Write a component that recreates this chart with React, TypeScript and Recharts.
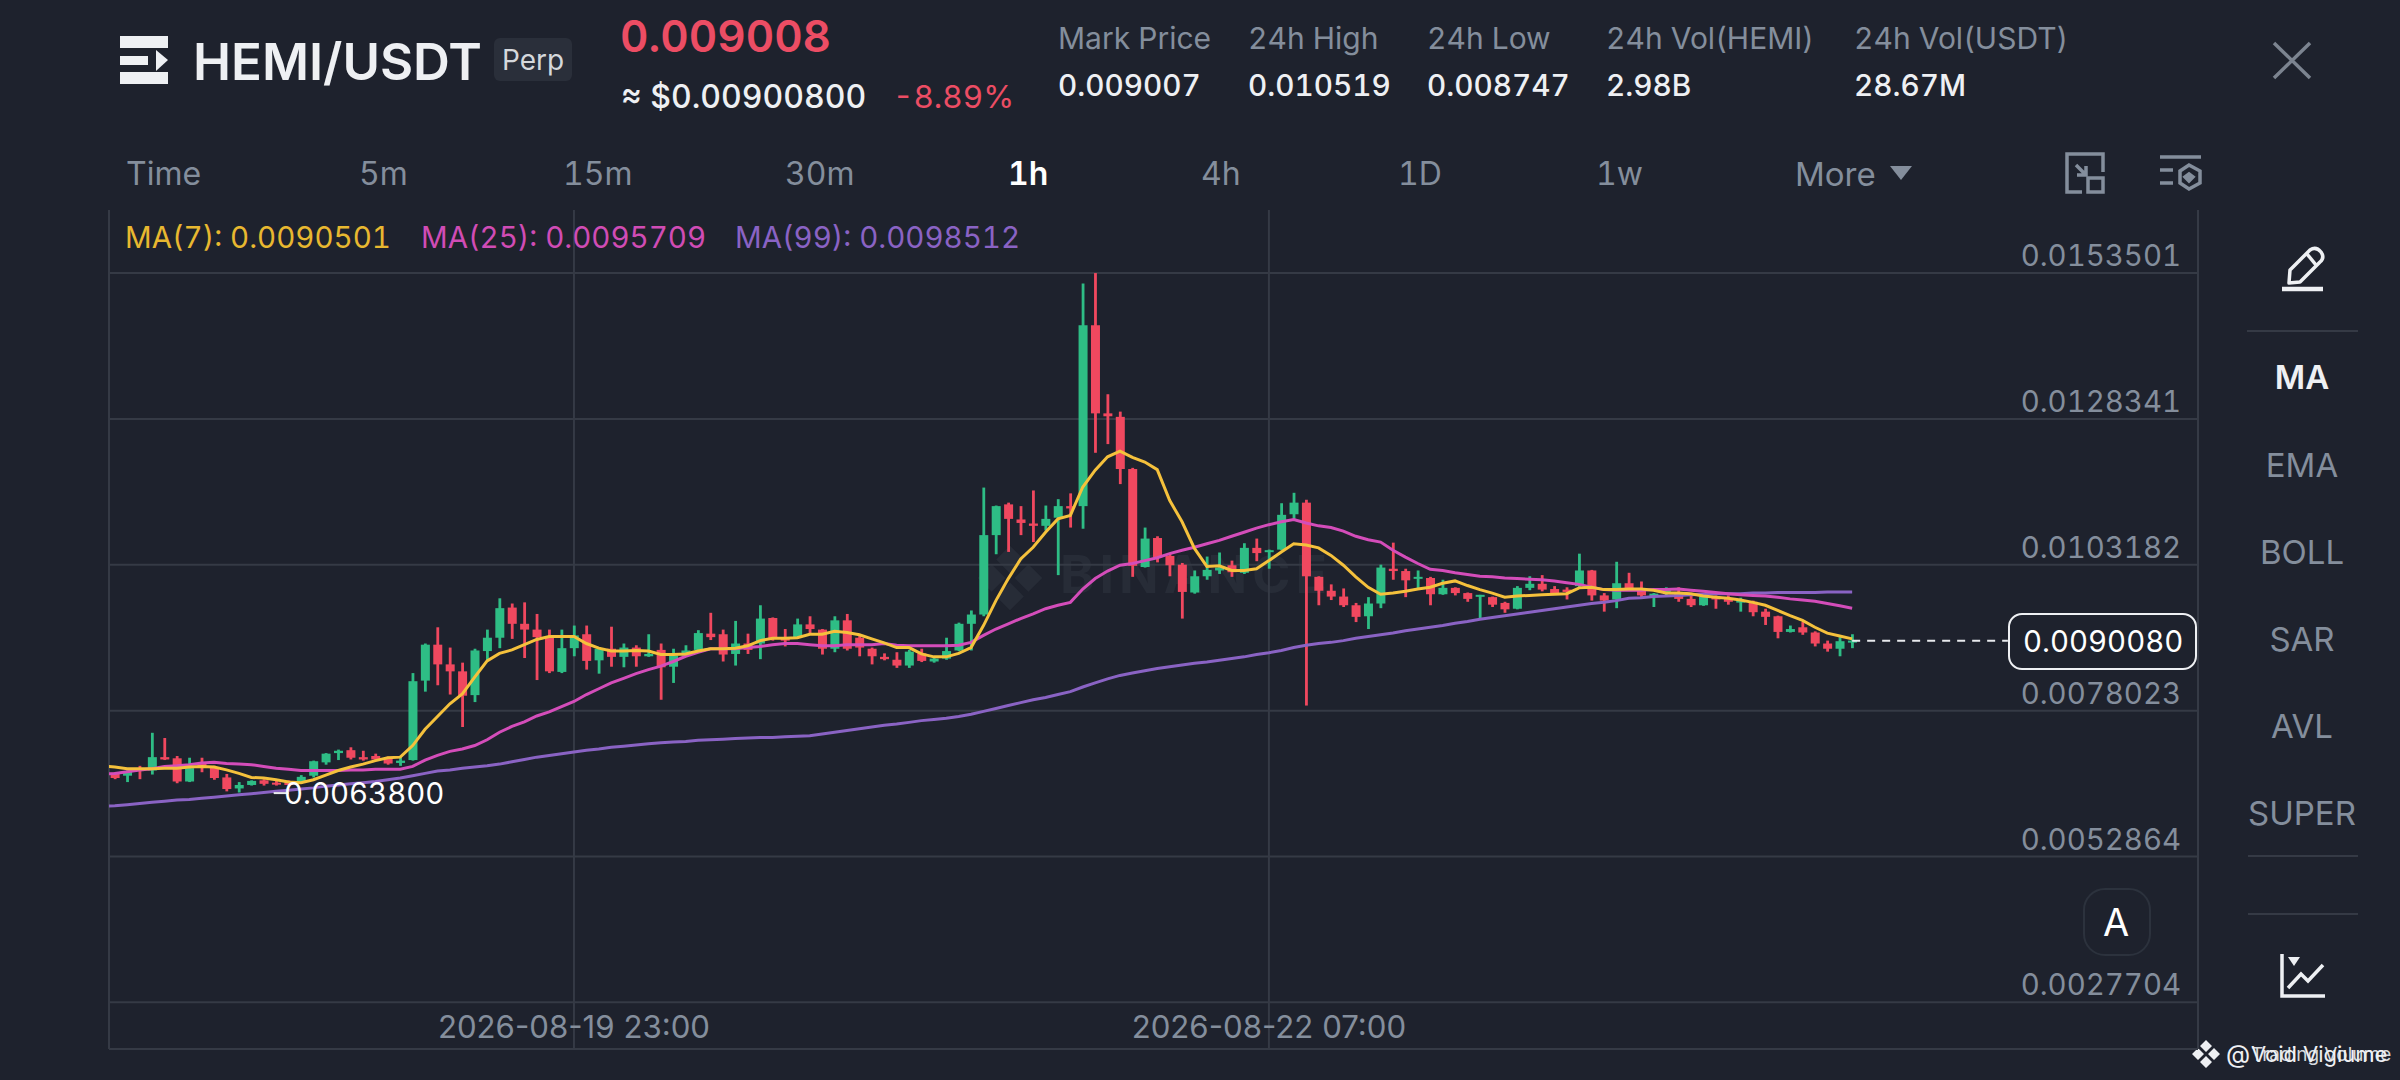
import { Bar, CartesianGrid, ComposedChart, Line, ReferenceLine, XAxis, YAxis } from "recharts"

// all prices below are in units of 0.00001 USDT, one entry per 1h candle
const opens = [
    672, 673, 668, 680, 677, 700, 698, 658, 689, 683, 665,
    646, 652, 660, 656, 657, 657, 668, 691, 707, 712,
    700, 702, 697, 690, 695, 832, 894, 860, 848, 807,
    883, 906, 958, 930, 920, 906, 847, 888, 912, 867,
    887, 873, 889, 874, 885, 856, 875, 885, 913, 912,
    878, 896, 896, 940, 906, 907, 929, 920, 887, 936,
    906, 887, 873, 868, 858, 879, 865, 870, 884, 930,
    946, 1083, 1136, 1110, 1103, 1099, 1113, 1133, 1133, 1445,
    1293, 1287, 1197, 1028, 1078, 1047, 1032, 984, 1012, 1022,
    1031, 1018, 1061, 1054, 1058, 1119, 1139, 1011, 987, 977,
    962, 943, 965, 1025, 1021, 1008, 1009, 981, 992, 983,
    977, 976, 966, 956, 992, 999, 990, 989, 995, 1022,
    979, 972, 1000, 991, 978, 985, 985, 973, 962, 977,
    973, 968, 968, 951, 943, 916, 924, 915, 896, 887, 900,
]
const closes = [
    668, 664, 676, 676, 700, 696, 658, 681, 683, 664, 645,
    652, 659, 654, 653, 652, 666, 693, 706, 711, 699,
    696, 696, 689, 694, 831, 894, 860, 848, 806, 884,
    906, 957, 930, 920, 907, 848, 888, 910, 866, 887,
    873, 889, 874, 878, 855, 875, 884, 914, 907, 877,
    896, 885, 939, 904, 901, 929, 921, 887, 936, 887,
    889, 874, 869, 858, 882, 866, 870, 883, 930, 946,
    1083, 1133, 1111, 1104, 1099, 1111, 1133, 1129, 1445, 1293,
    1288, 1197, 1030, 1077, 1045, 1031, 985, 1012, 1023, 1027,
    1019, 1061, 1052, 1057, 1118, 1139, 1012, 987, 977, 962,
    942, 965, 1027, 1021, 1005, 1011, 981, 992, 983, 973,
    980, 963, 955, 992, 999, 989, 983, 985, 1022, 979,
    970, 1000, 991, 979, 982, 989, 973, 962, 977, 972,
    968, 970, 950, 942, 916, 921, 915, 896, 887, 900, 901,
]
const highs = [
    674, 674, 677, 685, 742, 733, 702, 699, 699, 685, 671,
    657, 660, 662, 660, 660, 669, 694, 707, 713, 717,
    711, 706, 701, 700, 845, 896, 924, 889, 863, 887,
    920, 974, 965, 967, 947, 920, 920, 927, 927, 890,
    925, 896, 893, 912, 896, 887, 893, 919, 949, 920,
    935, 913, 962, 941, 921, 939, 943, 921, 943, 947,
    910, 889, 879, 881, 885, 887, 873, 906, 932, 953,
    1165, 1134, 1139, 1133, 1160, 1134, 1145, 1155, 1517, 1535,
    1326, 1296, 1199, 1096, 1081, 1051, 1035, 1022, 1046, 1053,
    1039, 1069, 1077, 1058, 1138, 1156, 1144, 1012, 998, 991,
    966, 976, 1032, 1070, 1025, 1022, 1011, 1006, 993, 984,
    980, 977, 968, 995, 1012, 1014, 995, 993, 1051, 1023,
    983, 1037, 1018, 1003, 983, 993, 993, 979, 979, 979,
    979, 975, 970, 956, 944, 927, 933, 917, 901, 907, 912,
]
const lows = [
    665, 662, 657, 662, 670, 695, 655, 657, 674, 661, 641,
    639, 651, 651, 651, 651, 654, 665, 687, 695, 696,
    694, 695, 687, 685, 694, 813, 824, 808, 752, 795,
    867, 888, 904, 871, 833, 845, 845, 874, 851, 844,
    856, 855, 856, 873, 799, 828, 873, 884, 902, 865,
    858, 878, 869, 901, 891, 904, 914, 877, 881, 884,
    874, 860, 867, 854, 854, 864, 863, 868, 883, 884,
    943, 1050, 1054, 1083, 1071, 1091, 1014, 1096, 1094, 1225,
    1240, 1171, 1011, 1027, 1036, 1012, 939, 982, 1006, 1016,
    1011, 1016, 1038, 1025, 1057, 1111, 789, 962, 971, 959,
    933, 921, 957, 1006, 976, 991, 962, 980, 979, 968,
    940, 959, 949, 955, 988, 986, 981, 972, 993, 970,
    951, 957, 988, 975, 959, 979, 968, 959, 961, 956,
    963, 951, 943, 928, 905, 915, 911, 891, 882, 874, 888,
]
const ma7 = [
    685, 683, 680, 680, 680, 681, 681, 683, 684, 683, 678,
    672, 665, 664, 661, 657, 656, 661, 669, 677, 683,
    688, 694, 699, 700, 720, 748, 770, 792, 809, 838,
    866, 879, 885, 894, 903, 908, 908, 908, 896, 888,
    883, 883, 884, 883, 877, 877, 878, 883, 887, 887,
    888, 892, 901, 905, 905, 906, 912, 912, 917, 915,
    911, 904, 897, 889, 889, 878, 873, 873, 879, 889,
    927, 970, 1008, 1042, 1062, 1088, 1111, 1117, 1166, 1195,
    1218, 1228, 1217, 1209, 1196, 1143, 1106, 1060, 1029, 1030,
    1022, 1022, 1025, 1039, 1054, 1068, 1066, 1061, 1048, 1031,
    1011, 993, 981, 983, 986, 990, 993, 1000, 1004, 996,
    989, 983, 976, 978, 979, 980, 981, 982, 992, 993,
    989, 989, 990, 990, 988, 983, 983, 982, 978, 976,
    974, 971, 967, 962, 953, 944, 936, 924, 914, 909, 904,
]
const ma25 = [
    671, 672, 675, 678, 680, 684, 685, 687, 690, 691, 689,
    688, 687, 684, 681, 679, 677, 677, 677, 677, 678,
    678, 679, 679, 679, 684, 695, 703, 710, 714, 720,
    730, 743, 753, 761, 771, 778, 787, 796, 808, 818,
    828, 836, 844, 851, 857, 865, 874, 881, 887, 887,
    887, 889, 891, 894, 896, 896, 894, 892, 892, 894,
    894, 894, 896, 893, 892, 892, 892, 892, 893, 898,
    910, 921, 930, 939, 947, 956, 962, 967, 990, 1008,
    1021, 1031, 1034, 1039, 1044, 1051, 1057, 1062, 1068, 1074,
    1081, 1088, 1095, 1101, 1106, 1110, 1104, 1099, 1096, 1090,
    1081, 1075, 1071, 1057, 1045, 1034, 1024, 1022, 1018, 1015,
    1012, 1011, 1009, 1008, 1007, 1006, 1004, 1001, 998, 993,
    989, 988, 988, 988, 989, 989, 990, 988, 986, 984,
    982, 980, 979, 978, 976, 973, 971, 969, 965, 961, 957,
]
const ma99 = [
    615, 616, 618, 620, 622, 624, 626, 627, 629, 631, 633,
    635, 637, 639, 641, 643, 645, 647, 650, 652, 654,
    656, 658, 661, 664, 668, 672, 676, 678, 681, 683,
    685, 688, 692, 696, 700, 703, 706, 709, 712, 714,
    717, 719, 721, 723, 725, 726, 727, 729, 730, 731,
    732, 733, 734, 734, 735, 736, 737, 740, 743, 746,
    749, 752, 755, 757, 760, 763, 765, 767, 770, 774,
    779, 784, 789, 794, 799, 803, 808, 813, 821, 828,
    835, 841, 845, 849, 853, 856, 859, 862, 864, 867,
    870, 873, 877, 880, 884, 889, 893, 896, 898, 901,
    905, 908, 911, 914, 918, 921, 924, 927, 931, 934,
    938, 941, 944, 947, 950, 953, 956, 959, 962, 965,
    967, 970, 974, 975, 977, 978, 979, 980, 981, 982,
    982, 982, 983, 983, 984, 984, 984, 984, 985, 985, 985,
]

const priceTicks = [0.0153501, 0.0128341, 0.0103182, 0.0078023, 0.0052864, 0.0027704]
const timeTicks = [0, 56]
const timeLabels = ["2026-08-19 23:00", "2026-08-22 07:00"]
const intervals = ["Time", "5m", "15m", "30m", "1h", "4h", "1D", "1w"]
const intervalX = [126, 359, 563, 785, 1008, 1201, 1398, 1596]
const indicators = ["MA", "EMA", "BOLL", "SAR", "AVL", "SUPER"]
const indicatorY = [377, 465, 552, 639, 726, 813]
const stats = [
    ["Mark Price", "0.009007"],
    ["24h High", "0.010519"],
    ["24h Low", "0.008747"],
    ["24h Vol(HEMI)", "2.98B"],
    ["24h Vol(USDT)", "28.67M"],
]
const statX = [1058, 1248, 1427, 1606, 1854]
const lastPrice = 0.009008
const lowPrice = 0.00638

// hour 0 is the 2026-08-19 23:00 candle
const rows = opens.map((o, i) => ({
    hour: i - 38,
    open: o / 1e5,
    close: closes[i] / 1e5,
    high: highs[i] / 1e5,
    low: lows[i] / 1e5,
    ma7: ma7[i] / 1e5,
    ma25: ma25[i] / 1e5,
    ma99: ma99[i] / 1e5,
}))

const BG = "#1e222d"
const GRID = "#353a45"
const GREY = "#848e9c"
const GREEN = "#2ebd85"
const RED = "#f0485f"
const FONT = "Inter, sans-serif"

function Candle(props: any) {
    const { x, y, width, height, payload } = props
    const top = Math.min(y, y + height)
    const span = Math.abs(height)
    const pxPerPrice = span / (payload.high - payload.low)
    const color = payload.close >= payload.open ? GREEN : RED
    const bodyTop = top + (payload.high - Math.max(payload.open, payload.close)) * pxPerPrice
    const bodyH = Math.max(Math.abs(payload.close - payload.open) * pxPerPrice, 2)
    const cx = x + width / 2
    return (
        <g>
            <rect x={cx - 1.4} y={top} width={2.8} height={span} fill={color} />
            <rect x={x} y={bodyTop} width={width} height={bodyH} fill={color} />
        </g>
    )
}

function PriceTick(props: any) {
    return (
        <text x={2181} y={props.y - 15} textAnchor="end" fontSize={29.4} fontFamily={FONT} fill={GREY} dominantBaseline="middle" style={{ fontVariantNumeric: "tabular-nums" }}>
            {props.payload.value.toFixed(7)}
        </text>
    )
}

function TimeTick(props: any) {
    const label = timeLabels[timeTicks.indexOf(props.payload.value)]
    return (
        <text x={props.x} y={1029} textAnchor="middle" fontSize={31.2} fontFamily={FONT} fill={GREY} dominantBaseline="middle">
            {label}
        </text>
    )
}

function Txt({ x, y, size = 30, color = "#fff", weight = 400, center = false, children }: any) {
    return (
        <div style={{
            position: "absolute", left: x, top: y, fontSize: size, color, fontWeight: weight, fontFamily: FONT, whiteSpace: "nowrap",
            fontVariantNumeric: "tabular-nums",
            lineHeight: 1, transform: center ? "translate(-50%,-50%)" : "translateY(-50%)",
        }}>
            {children}
        </div>
    )
}

const LOGO = "M0 -14 L6 -8 L0 -2 L-6 -8 Z M-8 -6 L-2 0 L-8 6 L-14 0 Z M8 -6 L14 0 L8 6 L2 0 Z M0 2 L6 8 L0 14 L-6 8 Z"

function Icons() {
    return (
        <svg width={2400} height={1080} style={{ position: "absolute", left: 0, top: 0, pointerEvents: "none" }}>
            {/* menu */}
            <rect x={120} y={36} width={48} height={12} fill="#eef0f3" />
            <rect x={120} y={72} width={48} height={12} fill="#eef0f3" />
            <rect x={120} y={56} width={28} height={9} fill="#eef0f3" />
            <path d="M156 50 L168 60 L156 71 Z" fill="#eef0f3" />
            {/* close */}
            <path d="M2274 43 L2310 78 M2310 43 L2274 78" stroke="#7c8490" strokeWidth={3.5} />
            {/* More triangle */}
            <path d="M1890 166 L1912 166 L1901 180 Z" fill={GREY} />
            {/* shrink icon */}
            <g stroke={GREY} strokeWidth={3.5} fill="none">
                <path d="M2082 192 H2067 V154 H2103 V172" />
                <rect x={2088} y={178} width={15} height={14} />
                <path d="M2076 165 L2086 175 M2086 166 V175 H2077" />
            </g>
            {/* settings icon */}
            <g stroke={GREY} strokeWidth={3.5} fill="none">
                <path d="M2160 157 H2201 M2160 170 H2173 M2160 183 H2173" />
                <path d="M2189 165 L2200 171 V183 L2189 189 L2180 183 V171 Z" />
                <path d="M2189 174 L2193 177 L2189 181 L2185 177 Z" fill={GREY} />
            </g>
            {/* pencil */}
            <g stroke="#eef0f3" strokeWidth={3.5} fill="none" strokeLinejoin="round">
                <path d="M2289 283 L2290 270 L2310 250 Q2316 246 2321 252 Q2325 258 2320 262 L2300 282 Z" />
                <path d="M2307 254 L2316 265" />
                <path d="M2282 289 H2323" strokeWidth={4.5} />
            </g>
            {/* dividers */}
            <path d="M2247 331 H2358 M2248 856 H2358 M2248 914 H2358" stroke={GRID} strokeWidth={2} />
            {/* chart icon */}
            <g stroke="#eef0f3" strokeWidth={3.5} fill="none">
                <path d="M2282 954 V996 H2325" />
                <path d="M2288 988 L2301 974 L2308 981 L2323 965" />
            </g>
            <path d="M2288 957 L2300 957 L2294 966 Z" fill="#eef0f3" />
            {/* footer logo */}
            <path d={LOGO} fill="#eef0f3" transform="translate(2206,1054)" />
            {/* chart watermark */}
            <g fill="#272c37">
                <path d={LOGO} transform="translate(1010,578) scale(2.3)" />
                <text x={1060} y={593} fontFamily={FONT} fontWeight={700} fontSize={52} letterSpacing={5}>BINANCE</text>
            </g>
        </svg>
    )
}

export default function App() {
    return (
        <div style={{ position: "absolute", left: 0, top: 0, width: 2400, height: 1080, background: BG, overflow: "hidden" }}>
            <Icons />
            <ComposedChart
                width={2400}
                height={1080}
                data={rows}
                margin={{ top: 210, right: 201, bottom: 30, left: 109 }}
                style={{ position: "absolute", left: 0, top: 0 }}
            >
                <CartesianGrid stroke={GRID} strokeWidth={2} verticalValues={[-37.47, 0, 56]} horizontalValues={priceTicks} syncWithTicks={false} />
                <XAxis
                    type="number"
                    dataKey="hour"
                    domain={[-37.47, 130.87]}
                    allowDataOverflow
                    ticks={timeTicks}
                    interval={0}
                    height={1}
                    tick={TimeTick}
                    tickLine={false}
                    axisLine={{ stroke: GRID, strokeWidth: 2 }}
                />
                <YAxis
                    orientation="right"
                    domain={[0.0019657, 0.016438]}
                    allowDataOverflow
                    ticks={priceTicks}
                    interval={0}
                    width={1}
                    tick={PriceTick}
                    tickLine={false}
                    axisLine={{ stroke: GRID, strokeWidth: 2 }}
                />
                <Bar dataKey={(d: any) => [d.low, d.high]} barSize={9} shape={<Candle />} isAnimationActive={false} />
                <Line dataKey="ma99" type="linear" stroke="#8a63c4" strokeWidth={3} dot={false} isAnimationActive={false} />
                <Line dataKey="ma25" type="linear" stroke="#d44dba" strokeWidth={3} dot={false} isAnimationActive={false} />
                <Line dataKey="ma7" type="linear" stroke="#f5c13c" strokeWidth={3} dot={false} isAnimationActive={false} />
                <ReferenceLine
                    segment={[{ x: 103, y: lastPrice }, { x: 115.55, y: lastPrice }]}
                    stroke="#e8eaed"
                    strokeWidth={2}
                    strokeDasharray="8 7"
                />
                <ReferenceLine
                    segment={[{ x: -24.2, y: lowPrice }, { x: -23, y: lowPrice }]}
                    stroke="#e8eaed"
                    strokeWidth={2}
                />
            </ComposedChart>

            <Txt x={193} y={61} size={51} weight={600} color="#eef0f3">HEMI/USDT</Txt>
            <div style={{ position: "absolute", left: 494, top: 38, width: 78, height: 43, background: "#2a2f3a", borderRadius: 6 }} />
            <Txt x={533} y={60} size={28} color="#d5d8dc" center>Perp</Txt>
            <Txt x={620} y={36} size={44} weight={600} color="#ec4d64">0.009008</Txt>
            <Txt x={621} y={97} size={32} weight={500} color="#eef0f3">≈ $0.00900800</Txt>
            <Txt x={893} y={97} size={31.5} color="#ec4d64">-8.89%</Txt>
            {stats.map(([name, value], i) => (
                <div key={name}>
                    <Txt x={statX[i]} y={38} size={30} color={GREY}>{name}</Txt>
                    <Txt x={statX[i]} y={86} size={29.7} weight={500} color="#eef0f3">{value}</Txt>
                </div>
            ))}

            {intervals.map((name, i) => (
                <Txt key={name} x={intervalX[i]} y={174} size={32} color={name === "1h" ? "#fff" : GREY} weight={name === "1h" ? 600 : 400}>{name}</Txt>
            ))}
            <Txt x={1795} y={174} size={33} color={GREY}>More</Txt>

            <Txt x={125} y={238} size={29.5} color="#e8b830">MA(7): 0.0090501</Txt>
            <Txt x={421} y={238} size={29.5} color="#d04cb5">MA(25): 0.0095709</Txt>
            <Txt x={735} y={238} size={29.5} color="#8a63c4">MA(99): 0.0098512</Txt>

            {indicators.map((name, i) => (
                <Txt key={name} x={2302} y={indicatorY[i]} size={33} center color={name === "MA" ? "#eef0f3" : GREY} weight={name === "MA" ? 600 : 400}>{name}</Txt>
            ))}

            <div style={{ position: "absolute", left: 2008, top: 613, width: 185, height: 53, border: "2px solid #eef0f3", borderRadius: 14, background: BG }} />
            <Txt x={2023} y={642} size={29.4} color="#fff">0.0090080</Txt>
            <Txt x={284} y={794} size={29.4} color="#fff">0.0063800</Txt>

            <div style={{ position: "absolute", left: 2083, top: 888, width: 64, height: 64, border: "2px solid #2c323d", borderRadius: 22 }} />
            <Txt x={2116} y={922} size={38} center color="#fff">A</Txt>

            <Txt x={2226} y={1054} size={25} color="#eef0f3">@</Txt>
            <Txt x={2251} y={1054} size={19} color="#d5d8dc">Trading Volume</Txt>
            <Txt x={2251} y={1054} size={22} color="#eef0f3">Void Vigiume</Txt>
        </div>
    )
}
